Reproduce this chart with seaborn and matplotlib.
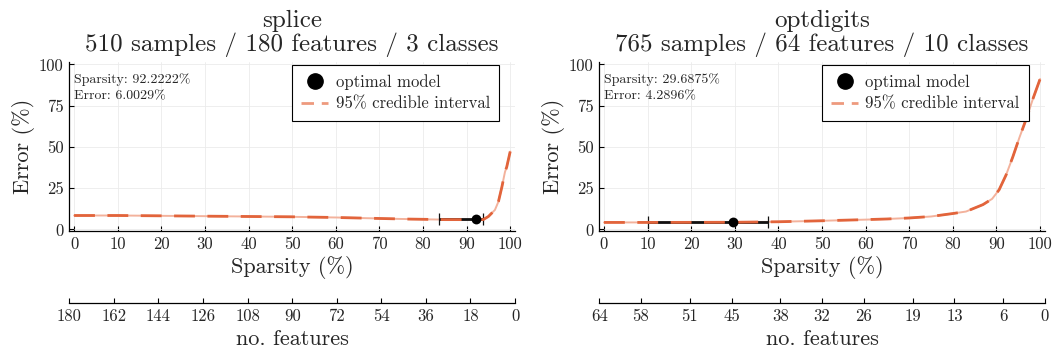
import matplotlib
matplotlib.use("Agg")
import matplotlib.pyplot as plt
from matplotlib.lines import Line2D
import seaborn as sns
import pandas as pd

# ---------------- data ----------------
splice_sparsity = [0, 5, 10, 15, 20, 25, 30, 35, 40, 45, 50, 55, 60, 65, 70, 75, 80, 85, 88,
                   90, 92.2, 93.8, 95, 96.5, 97.3, 98.1, 98.8, 99.2, 100]
splice_error = [8.4, 8.4, 8.4, 8.3, 8.2, 8.1, 8.0, 7.9, 7.8, 7.7, 7.6, 7.4, 7.2, 6.9, 6.6, 6.3, 6.1, 5.9, 5.9,
                5.9, 6.0, 5.9, 7.8, 11.8, 16.8, 25.8, 34.8, 37.8, 47.2]
splice_opt = (92.2222, 6.0029)
splice_opt_interval = (83.6, 93.7)
splice_features = [180, 162, 144, 126, 108, 90, 72, 54, 36, 18, 0]

optd_sparsity = [0, 10, 20, 30, 40, 50, 60, 65, 70, 75, 80, 83, 86.9, 89, 90.6, 92.2, 93.75,
                 95.3, 96.9, 98.4, 100]
optd_error = [4.2, 4.2, 4.25, 4.3, 4.6, 5.2, 5.9, 6.3, 6.9, 7.8, 9.6, 10.8, 15.0, 18.5, 24.0, 33.0, 44.0,
              56.0, 67.5, 79.5, 91.2]
optd_opt = (29.6875, 4.2896)
optd_opt_interval = (10.2, 37.5)
optd_features = [64, 58, 51, 45, 38, 32, 26, 19, 13, 6, 0]

titles = ["splice\n510 samples / 180 features / 3 classes",
          "optdigits\n765 samples / 64 features / 10 classes"]
notes = ["Sparsity: 92.2222%\nError: 6.0029%",
         "Sparsity: 29.6875%\nError: 4.2896%"]
x_ticks = [0, 10, 20, 30, 40, 50, 60, 70, 80, 90, 100]
y_ticks = [0, 25, 50, 75, 100]

# ---------------- style ----------------
sns.set_theme(style="white")
plt.rcParams["font.family"] = ["cmr10", "DejaVu Serif"]
plt.rcParams["axes.formatter.use_mathtext"] = True
plt.rcParams["mathtext.fontset"] = "cm"

DASH_COL = "#e2643b"
LIGHT_COL = "#f3b29c"
LEG_COL = "#ee9a7e"

W, H = 1052, 351
fig = plt.figure(figsize=(W / 100, H / 100), dpi=100)

panels = [
    (splice_sparsity, splice_error, splice_opt, splice_opt_interval, splice_features, 69.3),
    (optd_sparsity, optd_error, optd_opt, optd_opt_interval, optd_features, 599.2),
]

ax_w = (515 - 69.3) / W
ax_b = 1 - 231 / H
ax_h = (231 - 62) / H

for i, (sx, ey, opt, oint, feats, left_px) in enumerate(panels):
    ax = fig.add_axes([left_px / W, ax_b, ax_w, ax_h])
    df = pd.DataFrame({"Sparsity": sx, "Error": ey})

    # light continuous line (credible band)
    sns.lineplot(data=df, x="Sparsity", y="Error", ax=ax, color=LIGHT_COL, lw=1.4, zorder=2)
    # optimal model interval bar
    ax.errorbar(opt[0], opt[1], xerr=[[opt[0] - oint[0]], [oint[1] - opt[0]]],
                fmt="none", ecolor="#111111", elinewidth=2.0, capsize=4, capthick=0.9, zorder=3)
    # dashed main line
    sns.lineplot(data=df, x="Sparsity", y="Error", ax=ax, color=DASH_COL, lw=2.0,
                 linestyle=(0, (7.5, 4.5)), zorder=4)
    # optimal point
    sns.scatterplot(x=[opt[0]], y=[opt[1]], ax=ax, color="black", s=50, edgecolor="black",
                    linewidth=0, zorder=5)

    ax.set_xlim(-1.1, 101.1)
    ax.set_ylim(-1.0, 101.5)
    ax.set_xticks(x_ticks)
    ax.set_yticks(y_ticks)
    ax.set_xticklabels([str(t) for t in x_ticks])
    ax.set_yticklabels([str(t) for t in y_ticks])
    ax.grid(True, color="#ebebeb", lw=0.6)
    for s in ["top", "right"]:
        ax.spines[s].set_visible(False)
    for s in ["left", "bottom"]:
        ax.spines[s].set_color("black")
        ax.spines[s].set_linewidth(0.9)
    ax.tick_params(direction="in", length=3.5, width=0.8, color="black", labelsize=12,
                   pad=4, bottom=True, left=True)
    ax.set_xlabel("Sparsity (%)", fontsize=16, labelpad=3)
    ax.set_ylabel("Error (%)", fontsize=16, labelpad=3)
    ax.set_title(titles[i], fontsize=18, pad=8, linespacing=1.0)

    ax.text(0.01, 0.935, notes[i], transform=ax.transAxes, fontsize=10, va="top", ha="left",
            linespacing=1.55)

    handles = [Line2D([], [], marker="o", color="black", ls="none", markersize=11),
               Line2D([], [], color=LEG_COL, lw=2.0, ls=(0, (4.5, 2.8)))]
    leg = ax.legend(handles, ["optimal model", "95% credible interval"], loc="upper right",
                    bbox_to_anchor=(0.964, 0.982), borderaxespad=0, fontsize=12,
                    fancybox=False, framealpha=1, edgecolor="black", handlelength=1.6,
                    handletextpad=0.45, borderpad=0.55, labelspacing=0.38)
    leg.get_frame().set_linewidth(0.8)

    # secondary "no. features" axis
    ax2 = fig.add_axes([left_px / W, 1 - 303 / H, ax_w, 0.0001])
    ax2.set_facecolor("none")
    for s in ["top", "right", "left"]:
        ax2.spines[s].set_visible(False)
    ax2.spines["bottom"].set_color("black")
    ax2.spines["bottom"].set_linewidth(0.9)
    ax2.set_xlim(feats[0], feats[-1])
    ax2.set_xticks(feats)
    ax2.set_xticklabels([str(f) for f in feats])
    ax2.set_yticks([])
    ax2.tick_params(axis="x", direction="in", length=3.5, width=0.8, color="black",
                    labelsize=12, pad=4, bottom=True)
    ax2.set_xlabel("no. features", fontsize=16, labelpad=4)

fig.savefig("out.png", dpi=100)
